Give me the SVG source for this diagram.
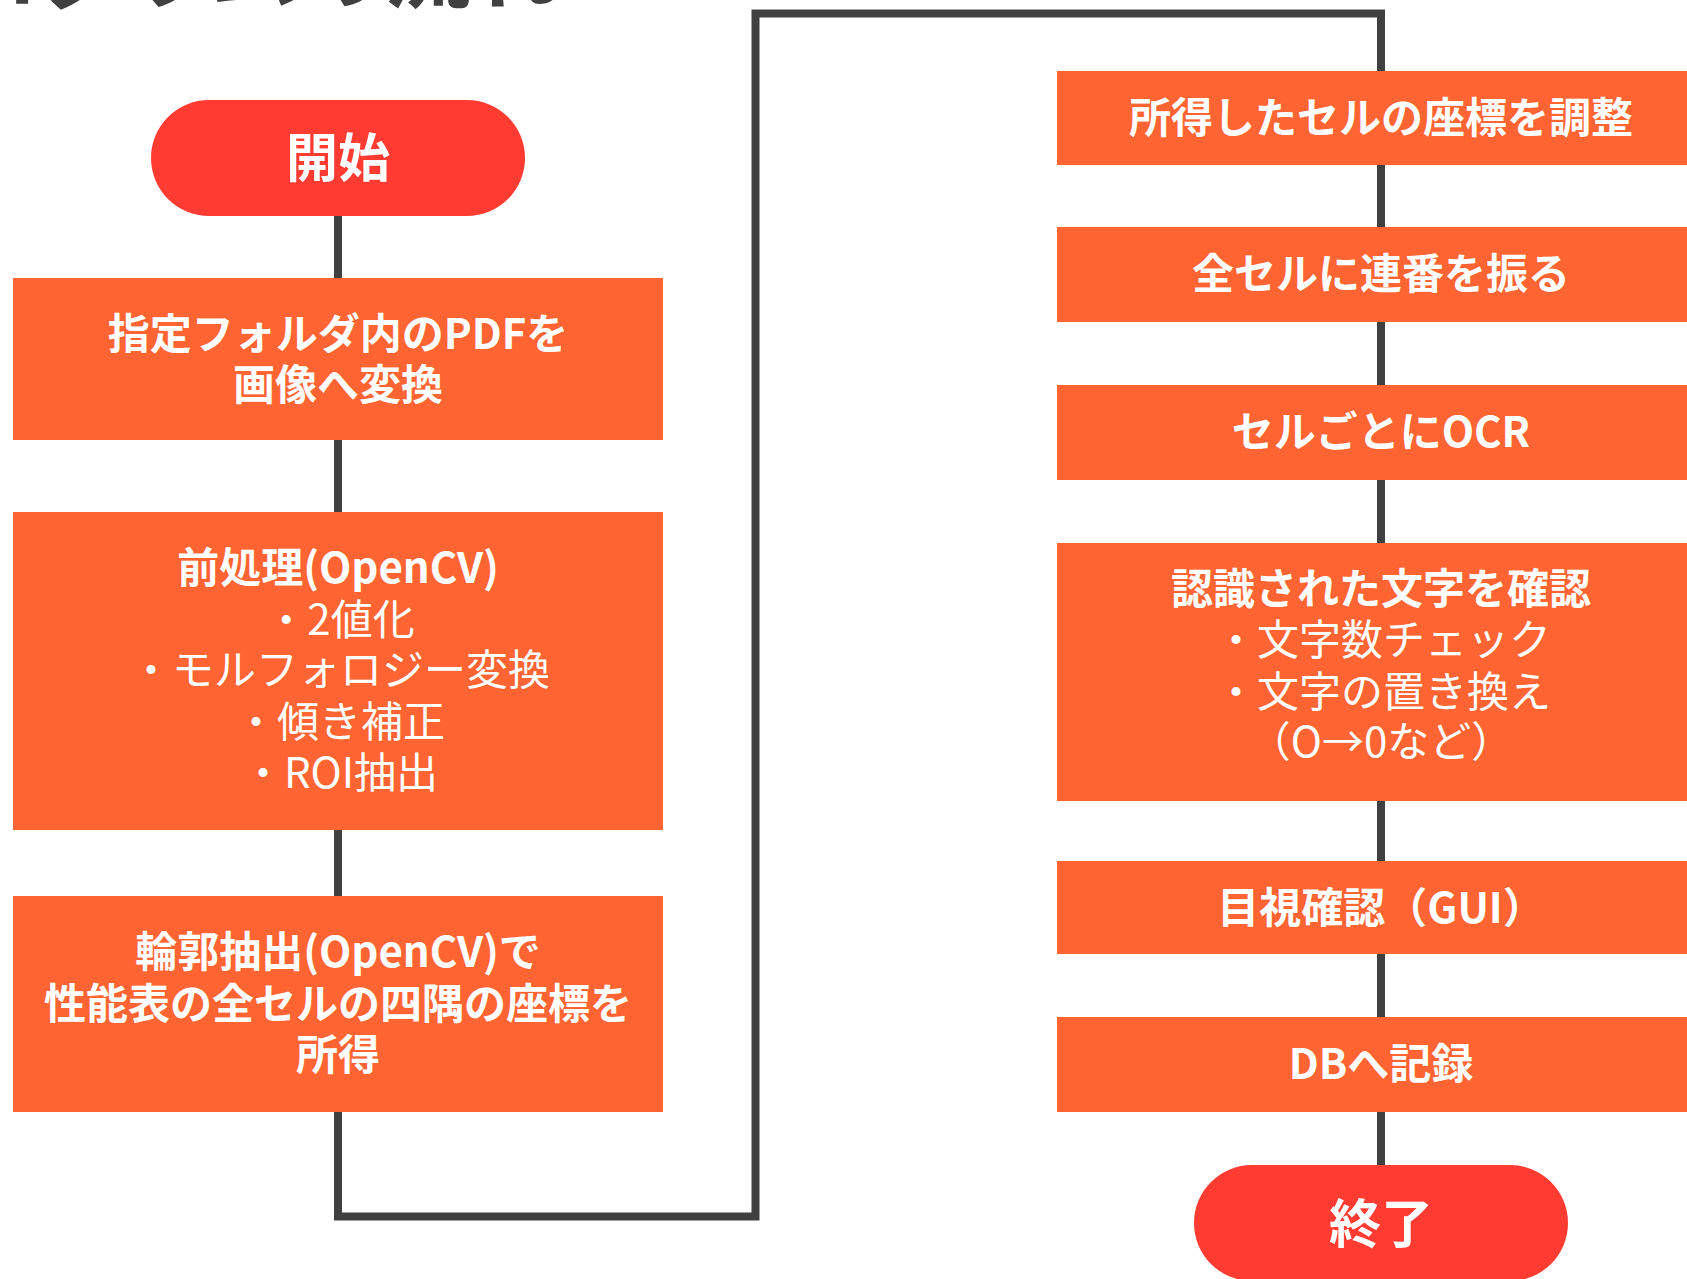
<svg xmlns="http://www.w3.org/2000/svg" width="1687" height="1279" viewBox="0 0 1687 1279">
  <style>
    text { font-family: "Noto Sans CJK JP", "Noto Sans", sans-serif; fill: #ffffff; text-anchor: middle; }
    .title { fill: #404040; font-weight: 700; font-size: 87px; text-anchor: end; }
    .pill { fill: #FF3B32; }
    .box { fill: #FF6432; }
    .pt { font-size: 52px; font-weight: 700; }
    .b { font-size: 42px; font-weight: 700; }
    .r { font-size: 42px; font-weight: 400; }
    .conn { fill: none; stroke: #404040; stroke-width: 8; stroke-linecap: butt; stroke-linejoin: miter; }
  </style>
  <rect width="1687" height="1279" fill="#ffffff"/>
  <text class="title" x="558" y="2">プログラムの流れ</text>

  <g id="connectors">
    <path class="conn" d="M338 214 V280"/>
    <path class="conn" d="M338 438 V514"/>
    <path class="conn" d="M338 828 V898"/>
    <path class="conn" d="M338 1110 V1216.5 H755.5 V13.5 H1381 V73"/>
    <path class="conn" d="M1381 163 V229"/>
    <path class="conn" d="M1381 320 V387"/>
    <path class="conn" d="M1381 478 V545"/>
    <path class="conn" d="M1381 799 V863"/>
    <path class="conn" d="M1381 952 V1019"/>
    <path class="conn" d="M1381 1110 V1167"/>
  </g>

  <g id="start">
    <rect class="pill" x="151" y="100" width="374" height="116" rx="58" ry="58"/>
    <text class="pt" x="338" y="177">開始</text>
  </g>

  <g id="step1">
    <rect class="box" x="13" y="278" width="650" height="162"/>
    <text class="b" x="338" y="349">指定フォルダ内のPDFを</text>
    <text class="b" x="338" y="400">画像へ変換</text>
  </g>

  <g id="step2">
    <rect class="box" x="13" y="512" width="650" height="318"/>
    <text class="b" x="338" y="583">前処理(OpenCV)</text>
    <text class="r" x="340" y="635">・2値化</text>
    <text class="r" x="340" y="685">・モルフォロジー変換</text>
    <text class="r" x="340" y="737">・傾き補正</text>
    <text class="r" x="340" y="788">・ROI抽出</text>
  </g>

  <g id="step3">
    <rect class="box" x="13" y="896" width="650" height="216"/>
    <text class="b" x="338" y="967">輪郭抽出(OpenCV)で</text>
    <text class="b" x="338" y="1019">性能表の全セルの四隅の座標を</text>
    <text class="b" x="338" y="1070">所得</text>
  </g>

  <g id="step4">
    <rect class="box" x="1057" y="71" width="660" height="94"/>
    <text class="b" x="1381" y="133">所得したセルの座標を調整</text>
  </g>

  <g id="step5">
    <rect class="box" x="1057" y="227" width="660" height="95"/>
    <text class="b" x="1381" y="289">全セルに連番を振る</text>
  </g>

  <g id="step6">
    <rect class="box" x="1057" y="385" width="660" height="95"/>
    <text class="b" x="1381" y="447">セルごとにOCR</text>
  </g>

  <g id="step7">
    <rect class="box" x="1057" y="543" width="660" height="258"/>
    <text class="b" x="1381" y="604">認識された文字を確認</text>
    <text class="r" x="1383" y="655">・文字数チェック</text>
    <text class="r" x="1383" y="707">・文字の置き換え</text>
    <text class="r" x="1381" y="757">（O→0など）</text>
  </g>

  <g id="step8">
    <rect class="box" x="1057" y="861" width="660" height="93"/>
    <text class="b" x="1381" y="923">目視確認（GUI）</text>
  </g>

  <g id="step9">
    <rect class="box" x="1057" y="1017" width="660" height="95"/>
    <text class="b" x="1381" y="1079">DBへ記録</text>
  </g>

  <g id="end">
    <rect class="pill" x="1194" y="1165" width="374" height="116" rx="58" ry="58"/>
    <text class="pt" x="1381" y="1243">終了</text>
  </g>
</svg>
